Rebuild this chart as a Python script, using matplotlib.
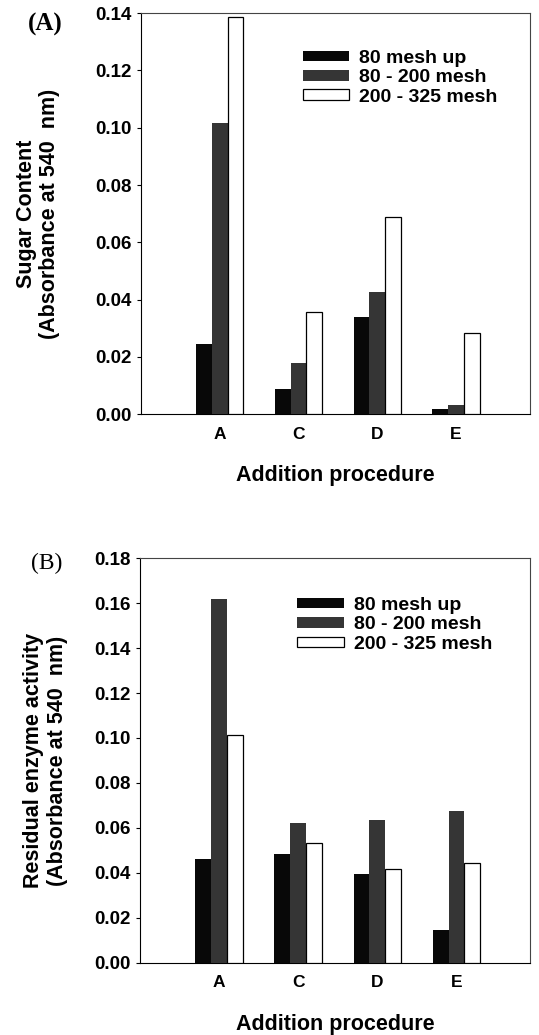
import matplotlib
matplotlib.use('Agg')
import matplotlib.pyplot as plt
import numpy as np

plt.rcParams['font.family'] = ['Liberation Sans', 'DejaVu Sans']
plt.rcParams['font.weight'] = 'bold'

# datos
procedures = ['A', 'C', 'D', 'E']
series = ['80 mesh up', '80 - 200 mesh', '200 - 325 mesh']

sugar_80up = [0.0244, 0.0087, 0.0340, 0.0017]
sugar_80_200 = [0.1015, 0.0178, 0.0428, 0.0032]
sugar_200_325 = [0.1385, 0.0356, 0.0690, 0.0283]

enzyme_80up = [0.0460, 0.0482, 0.0393, 0.0144]
enzyme_80_200 = [0.1619, 0.0621, 0.0633, 0.0673]
enzyme_200_325 = [0.1015, 0.0534, 0.0416, 0.0444]

sugar_ticks = [0.00, 0.02, 0.04, 0.06, 0.08, 0.10, 0.12, 0.14]
enzyme_ticks = [0.00, 0.02, 0.04, 0.06, 0.08, 0.10, 0.12, 0.14, 0.16, 0.18]

colors = ['#080808', '#353535', 'white']
W = 0.2

fig = plt.figure(figsize=(5.39, 10.35), dpi=100)
axA = fig.add_axes([0.2616, 0.5997, 0.7217, 0.3877])
axB = fig.add_axes([0.2597, 0.0700, 0.7236, 0.3906])


def panel(ax, vals, ticks, ylabel, label_x, leg_anchor, xmax):
    x = np.arange(1, len(procedures) + 1)
    for i, (v, c, name) in enumerate(zip(vals, colors, series)):
        ax.bar(x + (i - 1) * W, v, W, color=c, edgecolor='black',
               linewidth=0.9 if c == 'white' else 0, label=name, zorder=3)
    ax.set_xlim(0, xmax)
    ax.set_ylim(ticks[0], ticks[-1])
    ax.set_yticks(ticks)
    ax.set_yticklabels(['%.2f' % t for t in ticks], fontsize=13.5, fontweight='bold')
    ax.set_xticks(x)
    ax.set_xticklabels(procedures, fontsize=12.5, fontweight='bold')
    ax.tick_params(axis='x', length=0, pad=9)
    ax.tick_params(axis='y', length=3, width=0.8, direction='out', pad=3.5)
    for s in ax.spines.values():
        s.set_linewidth(0.8)
    ax.spines['top'].set_color('#444444')
    ax.spines['right'].set_color('#444444')
    ax.set_xlabel('Addition procedure', fontsize=15.5, fontweight='bold', labelpad=17)
    ax.set_ylabel(ylabel, fontsize=15.5, fontweight='bold', linespacing=1.15)
    ax.yaxis.set_label_coords(label_x, 0.5)
    leg = ax.legend(loc='upper left', bbox_to_anchor=leg_anchor, frameon=False,
                    fontsize=14, handlelength=2.4, handleheight=0.45,
                    labelspacing=0.12, handletextpad=0.5, borderpad=0,
                    borderaxespad=0)
    for t in leg.get_texts():
        t.set_fontweight('bold')


panel(axA, [sugar_80up, sugar_80_200, sugar_200_325], sugar_ticks,
      'Sugar Content\n(Absorbance at 540  nm)', -0.208, (0.416, 0.908), 4.94)
panel(axB, [enzyme_80up, enzyme_80_200, enzyme_200_325], enzyme_ticks,
      'Residual enzyme activity\n(Absorbance at 540  nm)', -0.185, (0.403, 0.904), 4.93)

fig.text(45 / 539, 1 - 24 / 1035, '(A)', fontsize=18, fontweight='bold',
         family=['Liberation Serif', 'DejaVu Serif'], ha='center', va='center')
fig.text(47 / 539, 1 - 563 / 1035, '(B)', fontsize=17, fontweight='normal',
         family=['Liberation Serif', 'DejaVu Serif'], ha='center', va='center')

fig.savefig('out.png', dpi=100, facecolor='white')
